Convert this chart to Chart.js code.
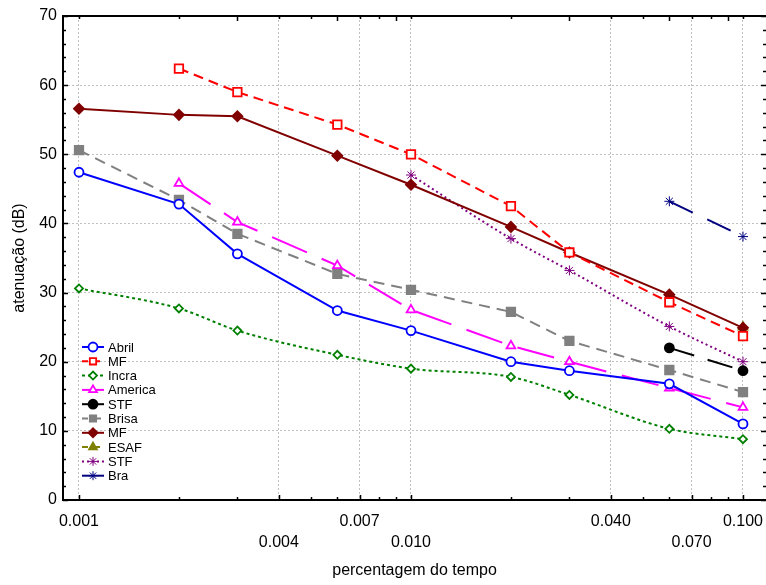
<!DOCTYPE html>
<html>
<head>
<meta charset="utf-8">
<script src="https://cdn.jsdelivr.net/npm/chart.js@4.4.0/dist/chart.umd.min.js"></script>
<style>
html, body { margin: 0; padding: 0; background: #fff; }
</style>
</head>
<body>
<canvas id="myChart" width="766" height="585"></canvas>
<script>
// percentagem do tempo (log axis)
var tempo = [0.001, 0.002, 0.003, 0.006, 0.01, 0.02, 0.03, 0.06, 0.1];

var abril   = [47.4, 42.8, 35.6, 27.4, 24.5, 20.0, 18.7, 16.8, 11.0];
var mf      = [null, 62.4, 59.0, 54.3, 50.0, 42.5, 35.8, 28.6, 23.7];
var incra   = [30.6, 27.7, 24.5, 21.0, 19.0, 17.8, 15.2, 10.3, 8.8];
var america = [null, 45.8, 40.2, 33.9, 27.5, 22.3, 20.0, 16.2, 13.4];
var stf     = [null, null, null, null, null, null, null, 22.0, 18.7];
var brisa   = [50.6, 43.4, 38.5, 32.7, 30.4, 27.2, 23.0, 18.8, 15.6];
var mf2     = [56.6, 55.7, 55.5, 49.8, 45.6, 39.5, 35.8, 29.7, 24.9];
var esaf    = [null, null, null, null, null, null, null, null, 25.0];
var stf2    = [null, null, null, null, 47.0, 37.8, 33.2, 25.1, 20.0];
var bra     = [null, null, null, null, null, null, null, 43.2, 38.1];

// labelled x ticks, alternating rows
var xLabels = [0.001, 0.004, 0.007, 0.01, 0.04, 0.07, 0.1];
var xLabelText = ['0.001', '0.004', '0.007', '0.010', '0.040', '0.070', '0.100'];
var xTopMajor = [0.003, 0.006, 0.009, 0.03, 0.06, 0.09];
var xMinor = [0.001, 0.002, 0.003, 0.004, 0.005, 0.006, 0.007, 0.008, 0.009,
              0.01, 0.02, 0.03, 0.04, 0.05, 0.06, 0.07, 0.08, 0.09, 0.1];

function pts(vals) {
    var out = [];
    for (var i = 0; i < vals.length; i++) {
        if (vals[i] !== null) out.push({x: tempo[i], y: vals[i]});
    }
    return out;
}
function near(a, b) { return Math.abs(a - b) < b * 1e-6; }
function labelIndex(v) {
    for (var i = 0; i < xLabels.length; i++) if (near(v, xLabels[i])) return i;
    return -1;
}

function ds(label, vals, color, fill, style, radius, dash, extra) {
    var d = {
        label: label,
        data: pts(vals),
        borderColor: color,
        backgroundColor: color,
        pointBackgroundColor: fill,
        pointBorderColor: color,
        pointStyle: style,
        pointRadius: radius,
        pointBorderWidth: 1.8,
        borderWidth: 2,
        borderDash: dash,
        tension: 0
    };
    for (var k in extra) d[k] = extra[k];
    return d;
}

var datasets = [
    ds('Abril', abril, '#0000ff', '#ffffff', 'circle', 4.5, []),
    ds('MF', mf, '#ff0000', '#ffffff', 'rect', 6, [10, 6]),
    ds('Incra', incra, '#008000', '#ffffff', 'rectRot', 4, [3, 3], {cubicInterpolationMode: 'monotone'}),
    ds('America', america, '#ff00ff', '#ffffff', 'triangle', 5, [38, 16]),
    ds('STF', stf, '#000000', '#000000', 'circle', 4.5, [26, 14]),
    ds('Brisa', brisa, '#808080', '#808080', 'rect', 6, [11, 7]),
    ds('MF', mf2, '#800000', '#800000', 'rectRot', 5, []),
    ds('ESAF', esaf, '#808000', '#808000', 'triangle', 5, [6, 6]),
    ds('STF', stf2, '#800080', '#800080', 'star', 5, [2, 3], {cubicInterpolationMode: 'monotone', pointBorderWidth: 1}),
    ds('Bra', bra, '#000080', '#000080', 'star', 5, [26, 16], {pointBorderWidth: 1})
];

// legend inside plot, lower left
var legendPlugin = {
    id: 'innerLegend',
    afterDatasetsDraw: function(chart) {
        var ctx = chart.ctx;
        var x0 = 82, x1 = 104, y0 = 347, step = 14.3;
        ctx.save();
        chart.data.datasets.forEach(function(d, i) {
            var y = y0 + i * step;
            ctx.strokeStyle = d.borderColor;
            ctx.lineWidth = 2;
            ctx.setLineDash(d.borderDash.length && d.borderDash[0] < 20 ? [Math.min(d.borderDash[0], 6), d.borderDash[1]] : []);
            ctx.beginPath();
            ctx.moveTo(x0, y);
            ctx.lineTo(x1, y);
            ctx.stroke();
            ctx.setLineDash([]);
            ctx.fillStyle = d.pointBackgroundColor;
            ctx.strokeStyle = d.pointBorderColor;
            ctx.lineWidth = d.pointBorderWidth;
            Chart.helpers.drawPoint(ctx, {pointStyle: d.pointStyle, radius: Math.min(d.pointRadius, 4.5), rotation: 0, borderWidth: d.pointBorderWidth}, 93, y);
            ctx.fillStyle = '#000';
            ctx.font = "13px 'Liberation Sans', Arial, sans-serif";
            ctx.textBaseline = 'middle';
            ctx.textAlign = 'left';
            ctx.fillText(d.label, 108, y + 1);
        });
        ctx.restore();
    }
};

// inward tick marks on all four sides and top frame line
var framePlugin = {
    id: 'frameTicks',
    afterDraw: function(chart) {
        var ctx = chart.ctx, a = chart.chartArea;
        var xs = chart.scales.x, ys = chart.scales.y;
        ctx.save();
        ctx.strokeStyle = '#000';
        ctx.lineWidth = 2;
        ctx.beginPath();
        ctx.moveTo(a.left, a.top);
        ctx.lineTo(a.right, a.top);
        ctx.stroke();
        ctx.lineWidth = 1.5;
        ctx.beginPath();
        xMinor.forEach(function(v) {
            var px = Math.round(xs.getPixelForValue(v)) + 0.5;
            var lb = labelIndex(v) >= 0 ? 5 : 3;
            ctx.moveTo(px, a.bottom);
            ctx.lineTo(px, a.bottom - lb);
            var lt = xTopMajor.some(function(t) { return near(v, t); }) ? 5 : 3;
            ctx.moveTo(px, a.top);
            ctx.lineTo(px, a.top + lt);
        });
        for (var v = 0; v <= 70; v += 2) {
            var py = Math.round(ys.getPixelForValue(v)) + 0.5;
            var l = v % 10 === 0 ? 5 : 3;
            ctx.moveTo(a.left, py);
            ctx.lineTo(a.left + l, py);
            ctx.moveTo(a.right, py);
            ctx.lineTo(a.right - l, py);
        }
        ctx.stroke();
        ctx.restore();
    }
};

var ctx = document.getElementById('myChart').getContext('2d');
Chart.defaults.font.family = "'Liberation Sans', Arial, sans-serif";
Chart.defaults.color = '#000';

var myChart = new Chart(ctx, {
    type: 'line',
    data: { datasets: datasets },
    options: {
        responsive: false,
        animation: false,
        devicePixelRatio: 1,
        layout: { autoPadding: false, padding: { top: 16, right: 0, left: 0, bottom: 0 } },
        plugins: {
            legend: { display: false },
            tooltip: { enabled: false }
        },
        scales: {
            x: {
                type: 'logarithmic',
                min: 0.000895,
                max: 0.1173,
                afterFit: function(scale) {
                    scale.height = 85;
                    scale.paddingLeft = 0;
                    scale.paddingRight = 0;
                },
                afterBuildTicks: function(scale) {
                    scale.ticks = xMinor.map(function(v) { return {value: v}; });
                },
                ticks: {
                    autoSkip: false,
                    maxRotation: 0,
                    padding: 11,
                    font: { size: 16, lineHeight: 1.3 },
                    callback: function(value) {
                        var i = labelIndex(value);
                        if (i < 0) return '';
                        return i % 2 === 0 ? [xLabelText[i], ''] : ['', xLabelText[i]];
                    }
                },
                grid: {
                    drawTicks: false,
                    color: function(c) {
                        return c.tick && labelIndex(c.tick.value) >= 0 ? '#c0c0c0' : 'rgba(0,0,0,0)';
                    },
                    lineWidth: 1
                },
                border: { display: true, color: '#000', width: 2, dash: [2, 2] },
                title: {
                    display: true,
                    text: 'percentagem do tempo',
                    font: { size: 16 },
                    padding: { top: 0, bottom: 5 }
                }
            },
            y: {
                min: 0,
                max: 70,
                afterFit: function(scale) { scale.width = 63; },
                ticks: {
                    stepSize: 10,
                    padding: 6,
                    font: { size: 16 }
                },
                grid: {
                    drawTicks: false,
                    color: function(c) {
                        return c.tick && (c.tick.value === 0 || c.tick.value === 70) ? 'rgba(0,0,0,0)' : '#c0c0c0';
                    },
                    lineWidth: 1
                },
                border: { display: true, color: '#000', width: 2, dash: [2, 2] },
                title: {
                    display: true,
                    text: 'atenuação (dB)',
                    font: { size: 16 },
                    padding: { top: 10, bottom: 0 }
                }
            }
        }
    },
    plugins: [legendPlugin, framePlugin]
});
</script>
</body>
</html>
